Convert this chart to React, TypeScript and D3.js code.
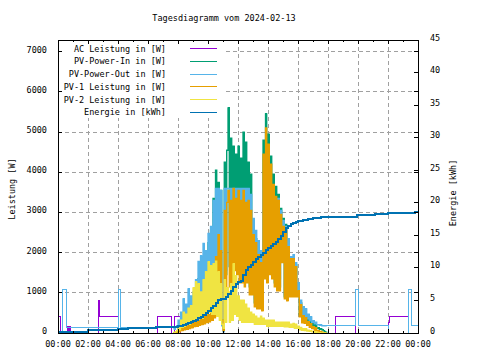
import React from "react";
import * as d3 from "d3";

const title = "Tagesdiagramm vom 2024-02-13";
const xTickHours = [0, 2, 4, 6, 8, 10, 12, 14, 16, 18, 20, 22, 24];
const xTickLabels = ["00:00", "02:00", "04:00", "06:00", "08:00", "10:00", "12:00", "14:00", "16:00", "18:00", "20:00", "22:00", "00:00"];
const yTicks = [0, 1000, 2000, 3000, 4000, 5000, 6000, 7000];
const y2Ticks = [0, 5, 10, 15, 20, 25, 30, 35, 40, 45];
const seriesNames = ["AC Leistung in [W]", "PV-Power-In in [W]", "PV-Power-Out in [W]", "PV-1 Leistung in [W]", "PV-2 Leistung in [W]", "Energie in [kWh]"];
const seriesColors = ["#9400d3", "#009e73", "#56b4e9", "#e69f00", "#f0e442", "#0072b2"];

// AC Leistung (W)
const acTimes = ["00:00", "00:10", "00:36", "00:40", "00:44", "00:48", "02:43", "02:45", "04:00", "06:38", "07:34", "07:45", "08:08", "18:31", "19:51", "22:01", "22:04", "23:21", "24:00"];
const acValues = [400, 0, 155, 0, 155, 0, 800, 400, 0, 400, 0, 400, 0, 400, 0, 265, 400, 0, 0];

// PV-Power-Out night parts (W)
const pvOutMorningTimes = ["00:00", "00:17", "00:32", "04:00", "04:09", "04:11"];
const pvOutMorningValues = [0, 1090, 130, 1090, 450, 130];
const pvOutEveningTimes = ["19:51", "20:02", "22:01", "23:21", "23:32", "24:00"];
const pvOutEveningValues = [1090, 175, 0, 1090, 175, 175];

// Daytime samples, every 5 minutes from 07:40
const dayStart = "07:40";
const dayStepMin = 5;
const pvOutDay = [
  130, 90, 140, 180, 320, 170, 520, 260, 850, 320, 720, 380, 1100, 430, 920, 480,
  1020, 480, 1330, 540, 1780, 640, 1920, 720, 2230, 830, 2050, 760, 2480, 930, 2650, 1050,
  3300, 1150, 3600, 1250, 3600, 950, 3550, 180, 30, 3600, 1550, 3600, 3600, 1650, 3600, 1550,
  3600, 2050, 3600, 1950, 3600, 1850, 3600, 1750, 3600, 1550, 3600, 1650, 3600, 1350, 3450, 1250,
  2850, 850, 2550, 750, 2300, 750, 2050, 650, 3600, 1550, 3600, 1450, 3600, 1650, 3600, 1550,
  3600, 1350, 3350, 1250, 3350, 1350, 3050, 1900, 2800, 950, 2650, 900, 2350, 1000, 1900, 1000,
  1950, 1000, 1750, 1000, 1250, 550, 820, 350, 650, 400, 600, 350, 470, 300, 400, 270,
  300, 230, 270, 210, 210, 190, 200, 180, 180, 175, 175, 175
];
const pvInDay = [
  0, 10, 30, 50, 150, 80, 280, 130, 430, 180, 530, 230, 640, 280, 690, 330,
  840, 330, 950, 380, 1350, 480, 1450, 530, 1650, 630, 1950, 680, 2250, 730, 2550, 830,
  3350, 950, 4050, 1050, 3750, 850, 3550, 330, 120, 4250, 1450, 4550, 5600, 1650, 4850, 1550,
  4650, 1950, 4450, 1850, 4650, 1850, 4350, 1750, 5000, 1550, 4750, 1650, 4250, 1150, 3950, 1050,
  2750, 750, 2350, 700, 2050, 700, 1850, 650, 4800, 1550, 5450, 1450, 4950, 1650, 4400, 1550,
  3950, 1250, 3650, 1150, 3450, 1150, 3100, 1850, 2850, 900, 2700, 850, 2250, 950, 1900, 950,
  1900, 950, 1700, 950, 1150, 450, 750, 300, 500, 300, 450, 250, 350, 200, 300, 170,
  230, 140, 200, 120, 130, 90, 110, 80, 60, 40, 20, 0
];
const pv1Day = [
  0, 0, 10, 20, 60, 30, 110, 60, 130, 80, 170, 90, 210, 110, 230, 130,
  260, 160, 310, 170, 320, 190, 370, 210, 420, 230, 500, 260, 450, 280, 650, 320,
  1000, 380, 1900, 450, 2450, 520, 2050, 320, 60, 3050, 950, 3250, 3550, 1150, 3300, 1050,
  3600, 1550, 3350, 1450, 3550, 1250, 3300, 1250, 3550, 1150, 3250, 1250, 3300, 950, 3050, 950,
  2450, 650, 2250, 600, 1950, 600, 1750, 550, 4450, 1350, 5100, 1250, 4700, 1450, 4200, 1350,
  3700, 1150, 3400, 1050, 3300, 1050, 2950, 1750, 2650, 850, 2550, 800, 2150, 900, 1850, 900,
  1850, 900, 1650, 900, 1050, 400, 700, 250, 430, 240, 380, 190, 280, 140, 230, 110,
  160, 70, 130, 50, 60, 30, 40, 20, 10, 5, 0, 0
];
const pv2Day = [
  0, 20, 30, 60, 180, 80, 320, 140, 520, 170, 470, 220, 620, 220, 680, 270,
  1120, 320, 1270, 370, 1220, 420, 1020, 370, 1320, 470, 1520, 520, 1770, 520, 1670, 470,
  1720, 470, 1790, 420, 1520, 320, 1220, 220, 120, 1320, 270, 1120, 1020, 270, 1220, 320,
  1720, 470, 1420, 420, 920, 320, 820, 270, 820, 270, 720, 270, 620, 270, 520, 270,
  470, 220, 420, 220, 370, 220, 420, 220, 370, 220, 320, 170, 320, 170, 320, 170,
  320, 170, 270, 170, 270, 170, 270, 170, 270, 150, 270, 150, 270, 140, 220, 140,
  240, 120, 220, 120, 170, 80, 140, 70, 110, 60, 100, 50, 70, 40, 60, 30,
  40, 20, 30, 10, 5, 0, 0, 0, 0, 0, 0, 0
];

// Energie (kWh)
const energyTimes = [
  "00:00", "01:20", "02:00", "04:00", "04:40", "06:30", "07:50", "08:00", "08:10", "08:20", "08:30", "08:40", "08:50",
  "09:00", "09:10", "09:20", "09:30", "09:40", "09:50", "10:00", "10:10", "10:20", "10:30", "10:40", "10:50",
  "11:00", "11:10", "11:20", "11:30", "11:40", "11:50", "12:00", "12:10", "12:20", "12:30", "12:40", "12:50",
  "13:00", "13:10", "13:20", "13:30", "13:40", "13:50", "14:00", "14:10", "14:20", "14:30", "14:40", "14:50",
  "15:00", "15:10", "15:20", "15:30", "15:40", "15:50", "16:00", "16:20", "16:40", "17:00", "17:30",
  "19:55", "21:08", "22:01", "23:48", "24:00"
];
const energyValues = [
  0.1, 0.2, 0.4, 0.55, 0.75, 0.85, 0.97, 1.0, 1.1, 1.25, 1.4, 1.55, 1.7,
  1.85, 2.0, 2.25, 2.5, 2.8, 3.05, 3.4, 3.8, 4.2, 4.6, 5.0, 5.2,
  5.25, 5.5, 6.0, 6.45, 7.0, 7.6, 7.85, 8.0, 8.9, 9.7, 10.1, 10.45,
  10.9, 11.3, 11.7, 12.0, 12.3, 12.75, 13.05, 13.3, 13.7, 14.05, 14.4, 14.85,
  15.5, 16.1, 16.45, 16.75, 16.95, 17.1, 17.2, 17.4, 17.55, 17.65, 17.8,
  18.1, 18.3, 18.4, 18.55, 18.55
];

const FONT = "'DejaVu Sans Mono', monospace";
const FS = 8.5;

function hrs(t: string): number {
  const [h, m] = t.split(":").map(Number);
  return h + m / 60;
}

type Pt = [number, number];

function zip(times: string[], values: number[]): Pt[] {
  return times.map((t, i) => [hrs(t), values[i]] as Pt);
}

function daySeries(values: number[]): Pt[] {
  const s = hrs(dayStart);
  return values.map((v, i) => [s + (i * dayStepMin) / 60, v] as Pt);
}

export default function App() {
  const left = 58, right = 418, top = 40, bottom = 333;
  const x = d3.scaleLinear().domain([0, 24]).range([left, right]);
  const y = d3.scaleLinear().domain([0, 7290]).range([bottom, top]);
  const y2 = d3.scaleLinear().domain([0, 45]).range([bottom, top]);

  const lineY = d3.line<Pt>().x(d => x(d[0])).y(d => y(d[1])).curve(d3.curveStepAfter);
  const lineY2 = d3.line<Pt>().x(d => x(d[0])).y(d => y2(d[1])).curve(d3.curveStepAfter);

  const dayEnd = hrs(dayStart) + (pvOutDay.length * dayStepMin) / 60;
  const zeroPre: Pt[] = [[0, 0]];
  const zeroPost: Pt[] = [[dayEnd, 0], [24, 0]];

  const acPts = zip(acTimes, acValues);
  const pvInPts = [...zeroPre, ...daySeries(pvInDay), ...zeroPost];
  const pvOutPts = [...zip(pvOutMorningTimes, pvOutMorningValues), ...daySeries(pvOutDay), ...zip(pvOutEveningTimes, pvOutEveningValues)];
  const pv1Pts = [...zeroPre, ...daySeries(pv1Day), ...zeroPost];
  const pv2Pts = [...zeroPre, ...daySeries(pv2Day), ...zeroPost];
  const energyPts = zip(energyTimes, energyValues);

  const powerSeries = [acPts, pvInPts, pvOutPts, pv1Pts, pv2Pts];
  const dayOnly: (number[] | null)[] = [null, pvInDay, pvOutDay, pv1Day, pv2Day];

  const minorHours = d3.range(1, 24, 2);

  return (
    <svg width={480} height={360} style={{ position: "absolute", left: 0, top: 0, background: "#fff" }}
      fontFamily={FONT} fontSize={FS}>
      <rect x={0} y={0} width={480} height={360} fill="#fff" />
      {/* grid */}
      <g stroke="#a0a0a0" strokeDasharray="4,3" strokeWidth={1} shapeRendering="crispEdges">
        {xTickHours.slice(1, -1).map(h => (
          <line key={"gx" + h} x1={x(h)} x2={x(h)} y1={top} y2={bottom} />
        ))}
        {yTicks.slice(1).map(v => (
          <line key={"gy" + v} x1={left} x2={right} y1={y(v)} y2={y(v)} />
        ))}
      </g>
      {/* opaque key box */}
      <rect x={left + 1} y={top + 1} width={166} height={77} fill="#fff" />
      {/* data */}
      <g fill="none" strokeWidth={1}>
        {powerSeries.map((pts, i) => {
          const day = dayOnly[i];
          return (
            <g key={"s" + i}>
              <path d={lineY(pts) || ""} stroke={seriesColors[i]} shapeRendering="crispEdges" />
              {day && (
                <path d={lineY(daySeries(day)) || ""} stroke={seriesColors[i]} strokeWidth={1.3} />
              )}
            </g>
          );
        })}
        <path d={lineY2(energyPts) || ""} stroke={seriesColors[5]} strokeWidth={2} shapeRendering="crispEdges" />
      </g>
      {/* frame and ticks */}
      <g stroke="#000" strokeWidth={1} shapeRendering="crispEdges" fill="none">
        <rect x={left} y={top} width={right - left} height={bottom - top} />
        {xTickHours.map(h => (
          <g key={"tx" + h}>
            <line x1={x(h)} x2={x(h)} y1={bottom} y2={bottom - 4} />
            <line x1={x(h)} x2={x(h)} y1={top} y2={top + 4} />
          </g>
        ))}
        {minorHours.map(h => (
          <g key={"mx" + h}>
            <line x1={x(h)} x2={x(h)} y1={bottom} y2={bottom - 2} />
            <line x1={x(h)} x2={x(h)} y1={top} y2={top + 2} />
          </g>
        ))}
        {yTicks.map(v => (
          <g key={"ty" + v}>
            <line x1={left} x2={left + 4} y1={y(v)} y2={y(v)} />
            <line x1={right} x2={right - 4} y1={y(v)} y2={y(v)} />
          </g>
        ))}
        {y2Ticks.map(v => (
          <line key={"ty2" + v} x1={right} x2={right - 4} y1={y2(v)} y2={y2(v)} />
        ))}
      </g>
      {/* labels */}
      <g fill="#000">
        <text x={224} y={21} textAnchor="middle">{title}</text>
        {xTickHours.map((h, i) => (
          <text key={"lx" + i} x={x(h)} y={347} textAnchor="middle">{xTickLabels[i]}</text>
        ))}
        {yTicks.map(v => (
          <text key={"ly" + v} x={47} y={y(v) + 1} textAnchor="end">{String(v)}</text>
        ))}
        {y2Ticks.map(v => (
          <text key={"ly2" + v} x={430} y={y2(v) + 0.5} textAnchor="start">{String(v)}</text>
        ))}
        <text transform="translate(15,189) rotate(-90)" textAnchor="middle">Leistung [W]</text>
        <text transform="translate(456,193) rotate(-90)" textAnchor="middle">Energie [kWh]</text>
      </g>
      {/* legend */}
      <g>
        {seriesNames.map((name, i) => {
          const ly = 48.5 + i * 12.75;
          return (
            <g key={"lg" + i}>
              <text x={166} y={ly + 3} textAnchor="end" fill="#000">{name}</text>
              <line x1={190} x2={217} y1={ly} y2={ly} stroke={seriesColors[i]} strokeWidth={1} shapeRendering="crispEdges" />
            </g>
          );
        })}
      </g>
    </svg>
  );
}
